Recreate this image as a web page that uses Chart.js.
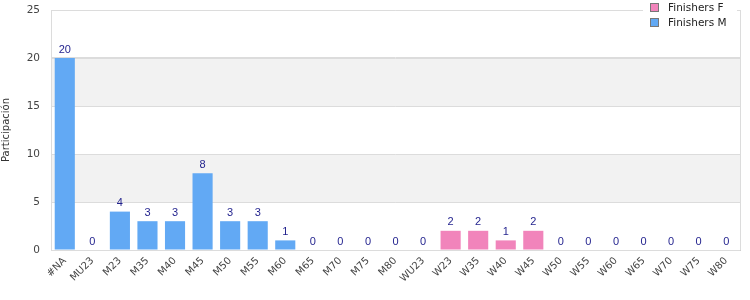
<!DOCTYPE html>
<html>
<head>
<meta charset="utf-8">
<script src="https://cdn.jsdelivr.net/npm/chart.js@4"></script>
<style>
  html, body { margin: 0; padding: 0; background: #fff; }
  #wrap { width: 750px; height: 300px; position: relative; }
</style>
</head>
<body>
<div id="wrap"><canvas id="myChart" width="750" height="300"></canvas></div>
<script>
'use strict';

const categories = ['#NA', 'MU23', 'M23', 'M35', 'M40', 'M45', 'M50', 'M55', 'M60', 'M65', 'M70', 'M75', 'M80',
    'WU23', 'W23', 'W35', 'W40', 'W45', 'W50', 'W55', 'W60', 'W65', 'W70', 'W75', 'W80'];
const finishersM = [20, 0, 4, 3, 3, 8, 3, 3, 1, 0, 0, 0, 0,
    null, null, null, null, null, null, null, null, null, null, null, null];
const finishersF = [null, null, null, null, null, null, null, null, null, null, null, null, null,
    0, 2, 2, 1, 2, 0, 0, 0, 0, 0, 0, 0];
const yTicks = [0, 5, 10, 15, 20, 25];

const blue = '#62a9f4';
const pink = '#f184bb';
const gridColor = '#dcdcdc';

// grey bands between 5-10 and 15-20
const bandPlugin = {
    id: 'bands',
    beforeDatasetsDraw(chart) {
        const ctx = chart.ctx;
        const y = chart.scales.y;
        const area = chart.chartArea;
        ctx.save();
        ctx.fillStyle = '#f2f2f2';
        [[5, 10], [15, 20]].forEach(function (b) {
            const top = y.getPixelForValue(b[1]);
            const bot = y.getPixelForValue(b[0]);
            ctx.fillRect(area.left, top, area.right - area.left, bot - top);
        });
        // redraw grid lines over bands
        ctx.strokeStyle = gridColor;
        ctx.lineWidth = 1;
        yTicks.forEach(function (v) {
            const py = Math.round(y.getPixelForValue(v)) + 0.5;
            ctx.beginPath();
            ctx.moveTo(area.left, py);
            ctx.lineTo(area.right, py);
            ctx.stroke();
        });
        ctx.beginPath();
        ctx.moveTo(Math.round(area.left) + 0.5, area.top);
        ctx.lineTo(Math.round(area.left) + 0.5, area.bottom);
        ctx.moveTo(Math.round(area.right) + 0.5, area.top);
        ctx.lineTo(Math.round(area.right) + 0.5, area.bottom);
        ctx.stroke();
        ctx.restore();
    }
};

// value labels above bars + floating legend
const labelPlugin = {
    id: 'labels',
    afterDatasetsDraw(chart) {
        const ctx = chart.ctx;
        ctx.save();
        ctx.font = '11px "Liberation Sans", Arial, sans-serif';
        ctx.fillStyle = '#1f1f8c';
        ctx.textAlign = 'center';
        ctx.textBaseline = 'bottom';
        chart.data.datasets.forEach(function (ds, i) {
            const meta = chart.getDatasetMeta(i);
            meta.data.forEach(function (bar, j) {
                if (ds.data[j] === null) return;
                ctx.fillText(String(ds.data[j]), bar.x, bar.y - 3);
            });
        });

        // legend box
        const lx = 643, ly = 0;
        ctx.fillStyle = '#fff';
        ctx.fillRect(lx, ly, 94, 31);
        ctx.font = '10.5px "DejaVu Sans", sans-serif';
        ctx.textAlign = 'left';
        ctx.textBaseline = 'middle';
        [['Finishers F', pink], ['Finishers M', blue]].forEach(function (item, k) {
            const cy = 8 + k * 15;
            ctx.fillStyle = item[1];
            ctx.fillRect(651, cy - 4, 7, 7);
            ctx.strokeStyle = '#777';
            ctx.lineWidth = 1;
            ctx.strokeRect(650.5, cy - 4.5, 8, 8);
            ctx.fillStyle = '#222';
            ctx.fillText(item[0], 668, cy);
        });
        ctx.restore();
    }
};

const ctx = document.getElementById('myChart').getContext('2d');
const myChart = new Chart(ctx, {
    type: 'bar',
    data: {
        labels: categories,
        datasets: [{
            label: 'Finishers F',
            data: finishersF,
            backgroundColor: pink,
            barPercentage: 0.73,
            categoryPercentage: 1
        }, {
            label: 'Finishers M',
            data: finishersM,
            backgroundColor: blue,
            barPercentage: 0.73,
            categoryPercentage: 1
        }]
    },
    options: {
        responsive: false,
        animation: false,
        events: [],
        layout: { padding: { top: 10, right: 10, left: 0, bottom: 0 } },
        plugins: {
            legend: { display: false },
            tooltip: { enabled: false }
        },
        scales: {
            x: {
                stacked: true,
                grid: { display: false, drawTicks: false },
                border: { color: '#cfcfcf' },
                ticks: {
                    autoSkip: false,
                    maxRotation: 45,
                    minRotation: 45,
                    padding: 5,
                    color: '#444',
                    font: { family: '"DejaVu Sans", sans-serif', size: 10 }
                },
                afterFit: function (scale) {
                    scale.height = 50;
                    scale.paddingTop = 0;
                    scale.paddingBottom = 0;
                }
            },
            y: {
                stacked: true,
                min: 0,
                max: 25,
                afterBuildTicks: function (scale) {
                    scale.ticks = yTicks.map(function (v) { return { value: v }; });
                },
                grid: { color: gridColor, drawTicks: false },
                border: { display: false },
                ticks: {
                    padding: 11,
                    color: '#444',
                    font: { family: '"DejaVu Sans", sans-serif', size: 10.5 }
                },
                title: {
                    display: true,
                    text: 'Participación',
                    color: '#333',
                    padding: 0,
                    font: { family: '"DejaVu Sans", sans-serif', size: 10 }
                },
                afterFit: function (scale) {
                    scale.width = 51;
                    scale.paddingTop = 0;
                    scale.paddingBottom = 0;
                }
            }
        }
    },
    plugins: [bandPlugin, labelPlugin]
});
</script>
</body>
</html>
